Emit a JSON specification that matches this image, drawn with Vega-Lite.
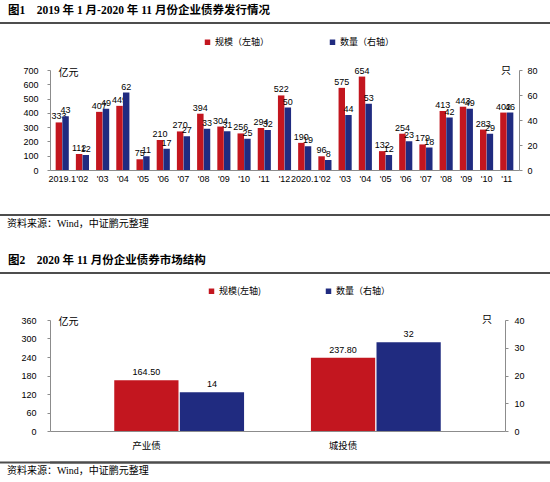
{
  "$schema": "https://vega.github.io/schema/vega-lite/v6.json",
  "padding": {"left": 0, "right": 0, "top": 5, "bottom": 0},
  "config": {"view": {"stroke": null}, "font": "Liberation Sans"},
  "datasets": {
    "c1": [
      {"month": "2019-01", "series": "规模（左轴）", "value": 333}, {"month": "2019-01", "series": "数量（右轴）", "value": 43},
      {"month": "2019-02", "series": "规模（左轴）", "value": 112}, {"month": "2019-02", "series": "数量（右轴）", "value": 12},
      {"month": "2019-03", "series": "规模（左轴）", "value": 407}, {"month": "2019-03", "series": "数量（右轴）", "value": 49},
      {"month": "2019-04", "series": "规模（左轴）", "value": 449}, {"month": "2019-04", "series": "数量（右轴）", "value": 62},
      {"month": "2019-05", "series": "规模（左轴）", "value": 75}, {"month": "2019-05", "series": "数量（右轴）", "value": 11},
      {"month": "2019-06", "series": "规模（左轴）", "value": 210}, {"month": "2019-06", "series": "数量（右轴）", "value": 17},
      {"month": "2019-07", "series": "规模（左轴）", "value": 270}, {"month": "2019-07", "series": "数量（右轴）", "value": 27},
      {"month": "2019-08", "series": "规模（左轴）", "value": 394}, {"month": "2019-08", "series": "数量（右轴）", "value": 33},
      {"month": "2019-09", "series": "规模（左轴）", "value": 304}, {"month": "2019-09", "series": "数量（右轴）", "value": 31},
      {"month": "2019-10", "series": "规模（左轴）", "value": 256}, {"month": "2019-10", "series": "数量（右轴）", "value": 25},
      {"month": "2019-11", "series": "规模（左轴）", "value": 294}, {"month": "2019-11", "series": "数量（右轴）", "value": 32},
      {"month": "2019-12", "series": "规模（左轴）", "value": 522}, {"month": "2019-12", "series": "数量（右轴）", "value": 50},
      {"month": "2020-01", "series": "规模（左轴）", "value": 190}, {"month": "2020-01", "series": "数量（右轴）", "value": 19},
      {"month": "2020-02", "series": "规模（左轴）", "value": 96}, {"month": "2020-02", "series": "数量（右轴）", "value": 8},
      {"month": "2020-03", "series": "规模（左轴）", "value": 575}, {"month": "2020-03", "series": "数量（右轴）", "value": 44},
      {"month": "2020-04", "series": "规模（左轴）", "value": 654}, {"month": "2020-04", "series": "数量（右轴）", "value": 53},
      {"month": "2020-05", "series": "规模（左轴）", "value": 132}, {"month": "2020-05", "series": "数量（右轴）", "value": 12},
      {"month": "2020-06", "series": "规模（左轴）", "value": 254}, {"month": "2020-06", "series": "数量（右轴）", "value": 23},
      {"month": "2020-07", "series": "规模（左轴）", "value": 179}, {"month": "2020-07", "series": "数量（右轴）", "value": 18},
      {"month": "2020-08", "series": "规模（左轴）", "value": 413}, {"month": "2020-08", "series": "数量（右轴）", "value": 42},
      {"month": "2020-09", "series": "规模（左轴）", "value": 443}, {"month": "2020-09", "series": "数量（右轴）", "value": 49},
      {"month": "2020-10", "series": "规模（左轴）", "value": 283}, {"month": "2020-10", "series": "数量（右轴）", "value": 29},
      {"month": "2020-11", "series": "规模（左轴）", "value": 402}, {"month": "2020-11", "series": "数量（右轴）", "value": 46}
    ],
    "c2": [
      {"key": "产业债|规模", "cat": "产业债", "series": "规模(左轴)", "value": 164.5},
      {"key": "产业债|数量", "cat": "产业债", "series": "数量（右轴）", "value": 14},
      {"key": "城投债|规模", "cat": "城投债", "series": "规模(左轴)", "value": 237.8},
      {"key": "城投债|数量", "cat": "城投债", "series": "数量（右轴）", "value": 32}
    ]
  },
  "spacing": 11.5,
  "vconcat": [
    {
      "width": 500, "height": 2,
      "view": {"fill": "#4d4d4d", "stroke": null},
      "title": {"text": "图1　2019 年 1 月-2020 年 11 月份企业债券发行情况", "anchor": "start", "frame": "bounds", "dx": 8, "offset": 5.5, "fontSize": 11.5, "font": "Liberation Serif, Noto Sans CJK SC", "fontWeight": "bold", "color": "#000"},
      "data": {"values": [{}]},
      "mark": {"type": "rect", "color": "#4d4d4d", "clip": false},
      "encoding": {
        "x": {"datum": -0.1, "type": "quantitative", "scale": {"domain": [0, 1]}, "axis": null},
        "x2": {"datum": 1}
      }
    },
    {
      "width": 500, "height": 18,
      "data": {"values": [{}]},
      "mark": {"type": "rect", "opacity": 0},
      "encoding": {
        "x": {"datum": 0, "type": "quantitative", "scale": {"domain": [0, 1]}, "axis": null},
        "x2": {"datum": 1}
      }
    },
    {
      "width": 469, "height": 100,
      "data": {"name": "c1"},
      "encoding": {
        "x": {"field": "month", "type": "nominal", "scale": {"paddingInner": 0.35, "paddingOuter": 0.28},
          "axis": {"title": null, "labelExpr": "slice(datum.value, 5) == '01' ? slice(datum.value, 0, 4) + '.1' : \"'\" + slice(datum.value, 5)", "labelAngle": 0, "labelFontSize": 9, "labelPadding": 4, "ticks": false, "domainColor": "#8c8c8c", "labelOverlap": false, "labelColor": "#000"}},
        "xOffset": {"field": "series", "type": "nominal", "scale": {"domain": ["规模（左轴）", "数量（右轴）"], "paddingInner": 0.03, "paddingOuter": 0}}
      },
      "layer": [
        {
          "transform": [{"filter": "datum.series === '规模（左轴）'"}],
          "encoding": {"y": {"field": "value", "type": "quantitative", "scale": {"domain": [0, 700], "nice": false},
            "axis": {"values": [0, 100, 200, 300, 400, 500, 600, 700], "title": "亿元", "titleAngle": 0, "titleX": 8, "titleY": 2, "titleAlign": "left", "titleBaseline": "middle", "titleFontSize": 10, "titleFont": "Noto Sans CJK SC", "titleFontWeight": "normal", "labelFontSize": 9, "labelPadding": 9, "tickSize": 3, "grid": false, "domainColor": "#8c8c8c", "tickColor": "#8c8c8c", "labelColor": "#000"}}},
          "layer": [
            {"mark": {"type": "bar"}, "encoding": {"color": {"field": "series", "type": "nominal", "scale": {"domain": ["规模（左轴）", "数量（右轴）"], "range": ["#C3161F", "#202B80"]},
              "legend": {"title": null, "orient": "none", "legendX": 153, "legendY": 15.5, "direction": "horizontal", "symbolType": "square", "symbolSize": 30, "symbolStrokeWidth": 0, "labelFontSize": 9, "labelFont": "Noto Sans CJK SC", "labelOffset": 3, "columnPadding": 58, "labelColor": "#000"}}}},
            {"mark": {"type": "text", "baseline": "bottom", "dy": -1, "fontSize": 9, "color": "#000"}, "encoding": {"text": {"field": "value", "type": "quantitative"}}}
          ]
        },
        {
          "transform": [{"filter": "datum.series === '数量（右轴）'"}],
          "encoding": {"y": {"field": "value", "type": "quantitative", "scale": {"domain": [0, 80], "nice": false},
            "axis": {"orient": "right", "values": [0, 20, 40, 60, 80], "title": "只", "titleAngle": 0, "titleX": -13.5, "titleY": 0, "titleAlign": "center", "titleBaseline": "middle", "titleFontSize": 10, "titleFont": "Noto Sans CJK SC", "titleFontWeight": "normal", "labelFontSize": 9, "labelPadding": 5, "tickSize": 3, "grid": false, "domainColor": "#8c8c8c", "tickColor": "#8c8c8c", "labelColor": "#000"}}},
          "layer": [
            {"mark": {"type": "bar"}, "encoding": {"color": {"field": "series", "type": "nominal", "scale": {"domain": ["规模（左轴）", "数量（右轴）"], "range": ["#C3161F", "#202B80"]},
              "legend": {"title": null, "orient": "none", "legendX": 153, "legendY": 15.5, "direction": "horizontal", "symbolType": "square", "symbolSize": 30, "symbolStrokeWidth": 0, "labelFontSize": 9, "labelFont": "Noto Sans CJK SC", "labelOffset": 3, "columnPadding": 58, "labelColor": "#000"}}}},
            {"mark": {"type": "text", "baseline": "bottom", "dy": -1, "fontSize": 9, "color": "#000"}, "encoding": {"text": {"field": "value", "type": "quantitative"}}}
          ]
        }
      ],
      "resolve": {"scale": {"y": "independent"}}
    },
    {
      "width": 500, "height": 8,
      "data": {"values": [{}]},
      "mark": {"type": "rect", "opacity": 0},
      "encoding": {
        "x": {"datum": 0, "type": "quantitative", "scale": {"domain": [0, 1]}, "axis": null},
        "x2": {"datum": 1}
      }
    },
    {
      "width": 500, "height": 2,
      "view": {"fill": "#4d4d4d", "stroke": null},
      "title": {"text": "资料来源：Wind，中证鹏元整理", "orient": "bottom", "anchor": "start", "frame": "bounds", "dx": 7, "offset": 3, "fontSize": 10, "font": "Liberation Serif, Noto Sans CJK SC", "fontWeight": "normal", "color": "#000"},
      "data": {"values": [{}]},
      "mark": {"type": "rect", "color": "#4d4d4d", "clip": false},
      "encoding": {
        "x": {"datum": -0.1, "type": "quantitative", "scale": {"domain": [0, 1]}, "axis": null},
        "x2": {"datum": 1}
      }
    },
    {
      "width": 500, "height": 3,
      "data": {"values": [{}]},
      "mark": {"type": "rect", "opacity": 0},
      "encoding": {
        "x": {"datum": 0, "type": "quantitative", "scale": {"domain": [0, 1]}, "axis": null},
        "x2": {"datum": 1}
      }
    },
    {
      "width": 500, "height": 2,
      "view": {"fill": "#4d4d4d", "stroke": null},
      "title": {"text": "图2　2020 年 11 月份企业债券市场结构", "anchor": "start", "frame": "bounds", "dx": 8, "offset": 5.5, "fontSize": 11.5, "font": "Liberation Serif, Noto Sans CJK SC", "fontWeight": "bold", "color": "#000"},
      "data": {"values": [{}]},
      "mark": {"type": "rect", "color": "#4d4d4d", "clip": false},
      "encoding": {
        "x": {"datum": -0.1, "type": "quantitative", "scale": {"domain": [0, 1]}, "axis": null},
        "x2": {"datum": 1}
      }
    },
    {
      "width": 500, "height": 17,
      "data": {"values": [{}]},
      "mark": {"type": "rect", "opacity": 0},
      "encoding": {
        "x": {"datum": 0, "type": "quantitative", "scale": {"domain": [0, 1]}, "axis": null},
        "x2": {"datum": 1}
      }
    },
    {
      "width": 455, "height": 111,
      "data": {"name": "c2"},
      "encoding": {
        "x": {"field": "key", "type": "nominal", "scale": {"domain": ["产业债|规模", "产业债|数量", "gap", "城投债|规模", "城投债|数量"], "paddingInner": 0.02, "paddingOuter": 0.98},
          "axis": {"title": null, "labelAngle": 0, "labelFontSize": 9.5, "labelFont": "Noto Sans CJK SC", "labelPadding": 9.5, "labelExpr": "datum.value == '产业债|规模' ? '产业债' : (datum.value == '城投债|规模' ? '城投债' : '')", "ticks": false, "domainColor": "#8c8c8c", "labelColor": "#000"}}
      },
      "layer": [
        {
          "transform": [{"filter": "datum.series === '规模(左轴)'"}],
          "encoding": {"y": {"field": "value", "type": "quantitative", "scale": {"domain": [0, 360], "nice": false},
            "axis": {"values": [0, 60, 120, 180, 240, 300, 360], "title": "亿元", "titleAngle": 0, "titleX": 8, "titleY": 1, "titleAlign": "left", "titleBaseline": "middle", "titleFontSize": 10, "titleFont": "Noto Sans CJK SC", "titleFontWeight": "normal", "labelFontSize": 9, "labelPadding": 11, "tickSize": 3, "grid": false, "domainColor": "#8c8c8c", "tickColor": "#8c8c8c", "labelColor": "#000"}}},
          "layer": [
            {"mark": {"type": "bar"}, "encoding": {"fill": {"field": "series", "type": "nominal", "scale": {"domain": ["规模(左轴)", "数量（右轴）"], "range": ["#C3161F", "#202B80"]},
              "legend": {"title": null, "orient": "none", "legendX": 157, "legendY": 264.5, "direction": "horizontal", "symbolType": "square", "symbolSize": 30, "symbolStrokeWidth": 0, "labelFontSize": 9, "labelFont": "Noto Sans CJK SC", "labelOffset": 3, "columnPadding": 62, "labelColor": "#000"}}}},
            {"mark": {"type": "text", "baseline": "bottom", "dy": -3, "fontSize": 9, "color": "#000"}, "encoding": {"text": {"field": "value", "type": "quantitative", "format": ".2f"}}}
          ]
        },
        {
          "transform": [{"filter": "datum.series === '数量（右轴）'"}],
          "encoding": {"y": {"field": "value", "type": "quantitative", "scale": {"domain": [0, 40], "nice": false},
            "axis": {"orient": "right", "values": [0, 10, 20, 30, 40], "title": "只", "titleAngle": 0, "titleX": -18.5, "titleY": -1, "titleAlign": "center", "titleBaseline": "middle", "titleFontSize": 10, "titleFont": "Noto Sans CJK SC", "titleFontWeight": "normal", "labelFontSize": 9, "labelPadding": 6, "tickSize": 3, "grid": false, "domainColor": "#8c8c8c", "tickColor": "#8c8c8c", "labelColor": "#000"}}},
          "layer": [
            {"mark": {"type": "bar"}, "encoding": {"fill": {"field": "series", "type": "nominal", "scale": {"domain": ["规模(左轴)", "数量（右轴）"], "range": ["#C3161F", "#202B80"]},
              "legend": {"title": null, "orient": "none", "legendX": 157, "legendY": 264.5, "direction": "horizontal", "symbolType": "square", "symbolSize": 30, "symbolStrokeWidth": 0, "labelFontSize": 9, "labelFont": "Noto Sans CJK SC", "labelOffset": 3, "columnPadding": 62, "labelColor": "#000"}}}},
            {"mark": {"type": "text", "baseline": "bottom", "dy": -3, "fontSize": 9, "color": "#000"}, "encoding": {"text": {"field": "value", "type": "quantitative", "format": "d"}}}
          ]
        }
      ],
      "resolve": {"scale": {"y": "independent"}}
    },
    {
      "width": 500, "height": 2,
      "view": {"fill": "#4d4d4d", "stroke": null},
      "title": {"text": "资料来源：Wind，中证鹏元整理", "orient": "bottom", "anchor": "start", "frame": "bounds", "dx": 7, "offset": 2, "fontSize": 10, "font": "Liberation Serif, Noto Sans CJK SC", "fontWeight": "normal", "color": "#000"},
      "data": {"values": [{}]},
      "mark": {"type": "rect", "color": "#4d4d4d", "clip": false},
      "encoding": {
        "x": {"datum": -0.1, "type": "quantitative", "scale": {"domain": [0, 1]}, "axis": null},
        "x2": {"datum": 1}
      }
    }
  ]
}
